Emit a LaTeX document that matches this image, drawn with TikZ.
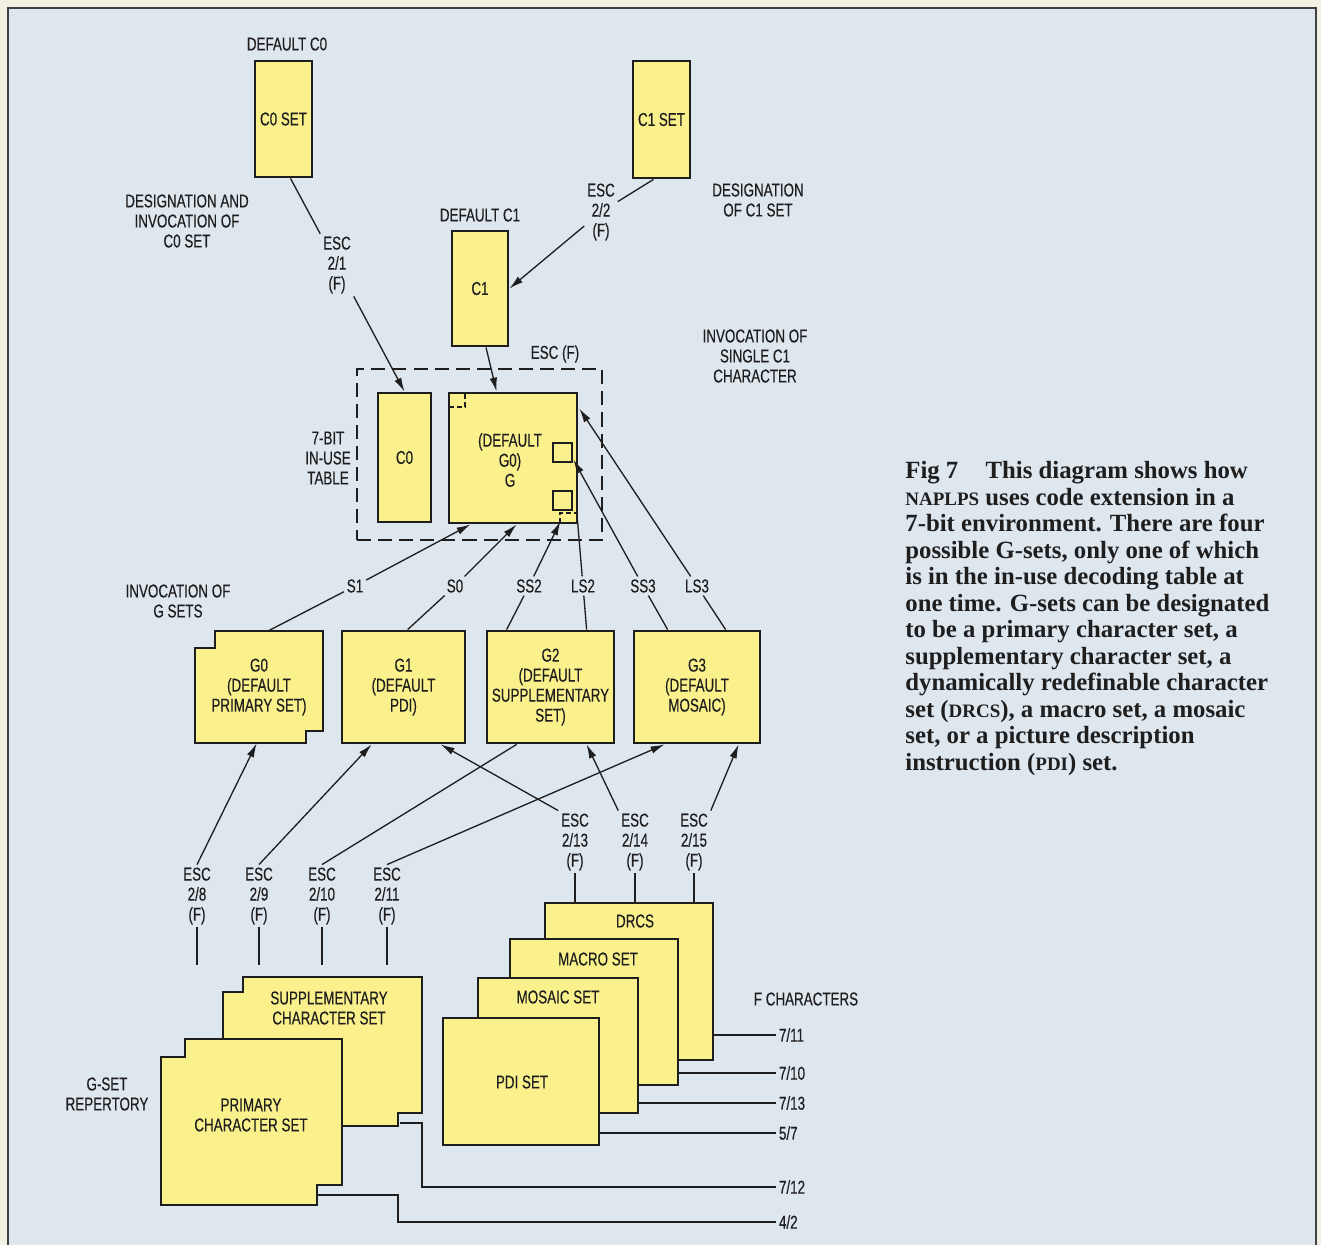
\documentclass[tikz,border=0pt]{standalone}
\usepackage{fontspec}
\newfontfamily\lblfamily[FakeStretch=0.72,FakeBold=0.3]{Liberation Sans}
\newfontfamily\capfamily{Liberation Serif}
\usetikzlibrary{arrows.meta,calc}

\definecolor{paper}{RGB}{243,240,228}
\definecolor{sheet}{RGB}{222,230,238}
\definecolor{setyellow}{RGB}{250,241,140}
\definecolor{ink}{RGB}{30,30,30}

\newcommand{\lblfont}{\lblfamily\fontsize{10.6}{11.4}\selectfont}
\newcommand{\smc}[1]{{\fontsize{10.8}{15.1}\selectfont #1}}

\tikzset{
  setbox/.style={draw=ink, line width=1.6pt, fill=setyellow, inner sep=0pt,
    font=\lblfont, text=ink, align=center},
  stackbox/.style={draw=ink, line width=0.7pt, fill=setyellow, inner sep=0pt},
  lbl/.style={font=\lblfont, text=ink, align=center, inner sep=1.5pt},
  conn/.style={draw=ink, line width=0.75pt},
  arr/.style={conn, -{Latex[length=2.8mm,width=1.5mm]}},
  silhouette/.style={draw=ink, line width=1.6pt, line join=miter},
  marker/.style={draw=ink, line width=0.8pt, dash pattern=on 3pt off 1.5pt},
}

\begin{document}
\begin{tikzpicture}[x=0.02cm, y=-0.02cm]
    \useasboundingbox (0,0) rectangle (1321,1245);
    % Paper and frame
    \fill[paper] (0,0) rectangle (1321,1245);
    \fill[sheet] (8,8) rectangle (1316,1245);
    \draw[ink!85, line width=1.4pt] (8,1245) -- (8,8) -- (1316,8) -- (1316,1245);

    % C0 and C1 sets
    \node[lbl] (defc0) at (287,44) {DEFAULT C0};
    \node[setbox, minimum width=1.14cm, minimum height=2.32cm] (c0set) at (283.5,119) {C0 SET};
    \node[setbox, minimum width=1.14cm, minimum height=2.34cm] (c1set) at (661.5,119.5) {C1 SET};
    \node[lbl] (desc0) at (187,221) {DESIGNATION AND\\INVOCATION OF\\C0 SET};
    \node[lbl] (desc1) at (758,200) {DESIGNATION\\OF C1 SET};
    \node[lbl] (defc1) at (480,215) {DEFAULT C1};
    \node[setbox, minimum width=1.12cm, minimum height=2.3cm] (c1) at (480,288.5) {C1};
    \node[lbl] (escf) at (555,354) {ESC (F)};
    \node[lbl] (invc1) at (755,356) {INVOCATION OF\\SINGLE C1\\CHARACTER};

    % In-use table
    \node[draw=ink, line width=0.8pt, dash pattern=on 8pt off 4pt,
          minimum width=4.9cm, minimum height=3.42cm] (inuse) at (479.5,454.5) {};
    \node[lbl] (inuselbl) at (328,458) {7-BIT\\IN-USE\\TABLE};
    \node[setbox, minimum width=1.06cm, minimum height=2.58cm] (c0) at (404.5,457.5) {C0};
    \node[setbox, minimum width=2.56cm, minimum height=2.6cm] (g) at (513,458) {};
    \node[lbl] (gtext) at (510,460) {(DEFAULT\\G0)\\G};
    \draw[marker] (449,407) -- (465,407) -- (465,393);
    \draw[marker] (560,523) -- (560,513) -- (577,513);
    \draw[ink, line width=0.8pt] (553,443) rectangle (572,462);
    \draw[ink, line width=0.8pt] (553,491) rectangle (572,510);

    % Designation of C0 and C1
    \node[lbl] (esc21) at (337,265) {ESC\\2/1\\(F)};
    \draw[conn] ($(c0set.south)+(7,0)$) -- (esc21);
    \draw[arr] (esc21) -- (c0.north);
    \node[lbl] (esc22) at (601,212) {ESC\\2/2\\(F)};
    \draw[conn] ($(c1set.south)+(-8,0)$) -- (esc22);
    \draw[arr] (esc22) -- (c1.east);
    \draw[arr] ($(c1.south)+(6,0)$) -- ($(g.north west)+(49,0)$);

    % G sets
    \draw[setbox] (215,631) -- (323,631) -- (323,731) -- (306,731) -- (306,743)
        -- (195,743) -- (195,648) -- (215,648) -- cycle;
    \node[lbl, minimum width=2.56cm, minimum height=2.24cm] (g0) at (259,687) {G0\\(DEFAULT\\PRIMARY SET)};
    \node[setbox, minimum width=2.46cm, minimum height=2.24cm] (g1) at (403.5,687) {G1\\(DEFAULT\\PDI)};
    \node[setbox, minimum width=2.54cm, minimum height=2.24cm] (g2) at (550.5,687) {G2\\(DEFAULT\\SUPPLEMENTARY\\SET)};
    \node[setbox, minimum width=2.52cm, minimum height=2.24cm] (g3) at (697,687) {G3\\(DEFAULT\\MOSAIC)};
    \node[lbl] (invg) at (178,601) {INVOCATION OF\\G SETS};

    % Invocation of G sets
    \node[lbl] (s1) at (355,586) {S1};
    \node[lbl] (s0) at (455,586) {S0};
    \node[lbl] (ss2) at (529,586) {SS2};
    \node[lbl] (ls2) at (583,586) {LS2};
    \node[lbl] (ss3) at (643,586) {SS3};
    \node[lbl] (ls3) at (697,586) {LS3};
    \draw[conn] ($(g0.north west)+(74,0)$) -- (s1);
    \draw[arr] (s1) -- ($(g.south west)+(23,0)$);
    \draw[conn] ($(g1.north west)+(67,0)$) -- (s0);
    \draw[arr] (s0) -- ($(g.south west)+(69,0)$);
    \draw[conn] ($(g2.north west)+(21,0)$) -- (ss2);
    \draw[arr] (ss2) -- ($(g.south east)+(-18,-3)$);
    \draw[conn] ($(g2.north west)+(101,0)$) -- (ls2);
    \draw[conn] (ls2) -- ($(g.south east)+(-1,-5)$);
    \draw[conn] ($(g3.north west)+(35,0)$) -- (ss3);
    \draw[arr] (ss3) -- ($(g.north east)+(-5,68)$);
    \draw[conn] ($(g3.north west)+(93,0)$) -- (ls3);
    \draw[arr] (ls3) -- ($(g.north east)+(1,17)$);

    % Right stack of sets
    \node[stackbox, minimum width=3.36cm, minimum height=3.14cm] (drcs) at (629,981.5) {};
    \node[stackbox, minimum width=3.36cm, minimum height=2.92cm] (macro) at (594,1012) {};
    \node[stackbox, minimum width=3.2cm, minimum height=2.7cm] (mosaic) at (558,1045.5) {};
    \node[stackbox, minimum width=3.12cm, minimum height=2.54cm] (pdi) at (521,1081.5) {};
    \draw[silhouette] (443,1018) -- (478,1018) -- (478,978) -- (510,978) -- (510,939)
        -- (545,939) -- (545,903) -- (713,903) -- (713,1060) -- (678,1060) -- (678,1085)
        -- (638,1085) -- (638,1113) -- (599,1113) -- (599,1145) -- (443,1145) -- cycle;
    \node[lbl] (drcstxt) at (635,921) {DRCS};
    \node[lbl] (macrotxt) at (598,959) {MACRO SET};
    \node[lbl] (mosaictxt) at (558,997) {MOSAIC SET};
    \node[lbl] (pditxt) at (522,1082) {PDI SET};

    % G-set repertory
    \draw[setbox, line width=0.7pt] (243,977) -- (422,977) -- (422,1113) -- (398,1113)
        -- (398,1126) -- (223,1126) -- (223,992) -- (243,992) -- cycle;
    \draw[setbox, line width=0.7pt] (185,1039) -- (342,1039) -- (342,1185) -- (317,1185)
        -- (317,1205) -- (161,1205) -- (161,1057) -- (185,1057) -- cycle;
    \draw[silhouette] (243,977) -- (422,977) -- (422,1113) -- (398,1113) -- (398,1126)
        -- (342,1126) -- (342,1185) -- (317,1185) -- (317,1205) -- (161,1205)
        -- (161,1057) -- (185,1057) -- (185,1039) -- (223,1039) -- (223,992)
        -- (243,992) -- cycle;
    \node[lbl] (supptxt) at (329,1008) {SUPPLEMENTARY\\CHARACTER SET};
    \node[lbl] (primtxt) at (251,1115) {PRIMARY\\CHARACTER SET};
    \node[lbl] (gsetrep) at (107,1094) {G-SET\\REPERTORY};

    % Designation of G sets
    \node[lbl] (esc28) at (197,896) {ESC\\2/8\\(F)};
    \node[lbl] (esc29) at (259,896) {ESC\\2/9\\(F)};
    \node[lbl] (esc210) at (322,896) {ESC\\2/10\\(F)};
    \node[lbl] (esc211) at (387,896) {ESC\\2/11\\(F)};
    \node[lbl] (esc213) at (575,842) {ESC\\2/13\\(F)};
    \node[lbl] (esc214) at (635,842) {ESC\\2/14\\(F)};
    \node[lbl] (esc215) at (694,842) {ESC\\2/15\\(F)};
    \draw[arr] (esc28.north) -- ($(g0.south west)+(62,0)$);
    \draw[arr] (esc29.north) -- ($(g1.south west)+(31,0)$);
    \draw[conn] (esc210.north) -- ($(g2.south west)+(31,0)$);
    \draw[arr] (esc211.north) -- ($(g3.south west)+(32,0)$);
    \draw[arr] (esc213.north west) -- ($(g1.south west)+(100,0)$);
    \draw[arr] (esc214.north west) -- ($(g2.south west)+(101,0)$);
    \draw[arr] (esc215.north east) -- ($(g3.south west)+(106,0)$);
    \foreach \n in {esc28,esc29,esc210,esc211}
        \draw[conn] (\n.south) -- ++(0,38);
    \foreach \n in {esc213,esc214,esc215}
        \draw[conn] (\n.south) -- (\n.south |- drcs.north);

    % F characters
    \node[lbl] (fchars) at (806,999) {F CHARACTERS};
    \node[lbl, anchor=west] (f711) at (776,1035) {7/11};
    \node[lbl, anchor=west] (f710) at (776,1073) {7/10};
    \node[lbl, anchor=west] (f713) at (776,1103) {7/13};
    \node[lbl, anchor=west] (f57) at (776,1133) {5/7};
    \node[lbl, anchor=west] (f712) at (776,1187) {7/12};
    \node[lbl, anchor=west] (f42) at (776,1222) {4/2};
    \draw[conn] (drcs.east |- f711.west) -- (f711.west);
    \draw[conn] (macro.east |- f710.west) -- (f710.west);
    \draw[conn] (mosaic.east |- f713.west) -- (f713.west);
    \draw[conn] (pdi.east |- f57.west) -- (f57.west);
    \draw[conn] (400,1123) -- (422,1123) -- (422,1187) -- (f712.west);
    \draw[conn] (318,1195) -- (398,1195) -- (398,1222) -- (f42.west);

    % Caption
    \node[anchor=north west, align=left, inner sep=0pt, text=ink,
          font=\capfamily\bfseries\fontsize{14.1}{15.1}\selectfont] (caption) at (905,461) {%
        Fig 7\hskip 1.1em This diagram shows how\\
        \smc{NAPLPS} uses code extension in a\\
        7-bit environment. There are four\\
        possible G-sets, only one of which\\
        is in the in-use decoding table at\\
        one time. G-sets can be designated\\
        to be a primary character set, a\\
        supplementary character set, a\\
        dynamically redefinable character\\
        set (\smc{DRCS}), a macro set, a mosaic\\
        set, or a picture description\\
        instruction (\smc{PDI}) set.};
\end{tikzpicture}
\end{document}
